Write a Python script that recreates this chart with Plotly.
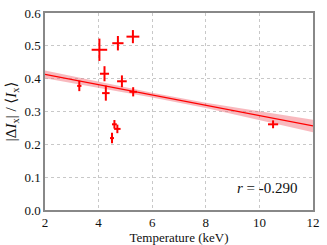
import plotly.graph_objects as go

# Data points (temperature keV, fractional variation) with errors
temp = [4.03, 4.72, 5.28, 4.22, 4.87, 4.27, 3.28, 5.29, 4.59, 4.70, 4.50, 10.51]
temp_err = [0.29, 0.21, 0.24, 0.17, 0.18, 0.14, 0.08, 0.14, 0.09, 0.12, 0.075, 0.19]
frac = [0.488, 0.508, 0.528, 0.415, 0.392, 0.356, 0.378, 0.360, 0.261, 0.247, 0.219, 0.261]
frac_err = [0.034, 0.022, 0.020, 0.023, 0.018, 0.023, 0.016, 0.014, 0.013, 0.013, 0.016, 0.012]

# Linear fit line and confidence band read at sample temperatures
fit_t = [2, 4, 6, 8, 10, 12]
fit_y = [0.413, 0.382, 0.350, 0.319, 0.287, 0.256]
band_hw = [0.012, 0.009, 0.007, 0.008, 0.013, 0.019]

x_ticks = [2, 4, 6, 8, 10, 12]
y_ticks = [0.0, 0.1, 0.2, 0.3, 0.4, 0.5, 0.6]

RED = "#ff0000"
FONT = "Liberation Serif, Times New Roman, DejaVu Serif, serif"

upper = [y + h for y, h in zip(fit_y, band_hw)]
lower = [y - h for y, h in zip(fit_y, band_hw)]

fig = go.Figure()
fig.add_trace(go.Scatter(x=fit_t, y=upper, mode="lines", line=dict(width=0),
                         showlegend=False, hoverinfo="skip"))
fig.add_trace(go.Scatter(x=fit_t, y=lower, mode="lines", line=dict(width=0),
                         fill="tonexty", fillcolor="rgba(240,100,110,0.45)",
                         showlegend=False, hoverinfo="skip"))
fig.add_trace(go.Scatter(x=fit_t, y=fit_y, mode="lines",
                         line=dict(color=RED, width=1.2), showlegend=False))
fig.add_trace(go.Scatter(
    x=temp, y=frac, mode="markers",
    marker=dict(size=1, color=RED),
    error_x=dict(type="data", array=temp_err, color=RED, thickness=2, width=0),
    error_y=dict(type="data", array=frac_err, color=RED, thickness=2, width=0),
    showlegend=False))

axis_common = dict(
    showline=True, linecolor="#888888", linewidth=1.5, mirror=True,
    showgrid=True, gridcolor="#c8c8c8", griddash="dot", gridwidth=1,
    zeroline=False, ticks="", automargin=False,
    tickfont=dict(family=FONT, size=13, color="#111"),
)

fig.update_layout(
    width=327, height=245,
    margin=dict(l=45, r=14, t=13, b=35),
    paper_bgcolor="white", plot_bgcolor="white",
    font=dict(family=FONT, color="#111"),
    xaxis=dict(range=[2, 12], tickvals=x_ticks, ticktext=[str(v) for v in x_ticks],
               title=dict(text="Temperature (keV)", font=dict(family=FONT, size=13), standoff=3),
               **axis_common),
    yaxis=dict(range=[0, 0.6], tickvals=y_ticks, ticktext=[f"{v:.1f}" for v in y_ticks],
               title=dict(text="|Δ<i>I</i><sub>x</sub>| / ⟨<i>I</i><sub>x</sub>⟩",
                          font=dict(family=FONT, size=15), standoff=4),
               **axis_common),
    annotations=[dict(x=11.53, y=0.067, xref="x", yref="y", xanchor="right", yanchor="middle",
                      text="<i>r</i> = -0.290", showarrow=False,
                      font=dict(family=FONT, size=15, color="#111"))],
)

fig.write_html("out.html", config={"displayModeBar": False},
               post_script="document.body.style.margin='0';document.body.style.overflow='hidden';")
